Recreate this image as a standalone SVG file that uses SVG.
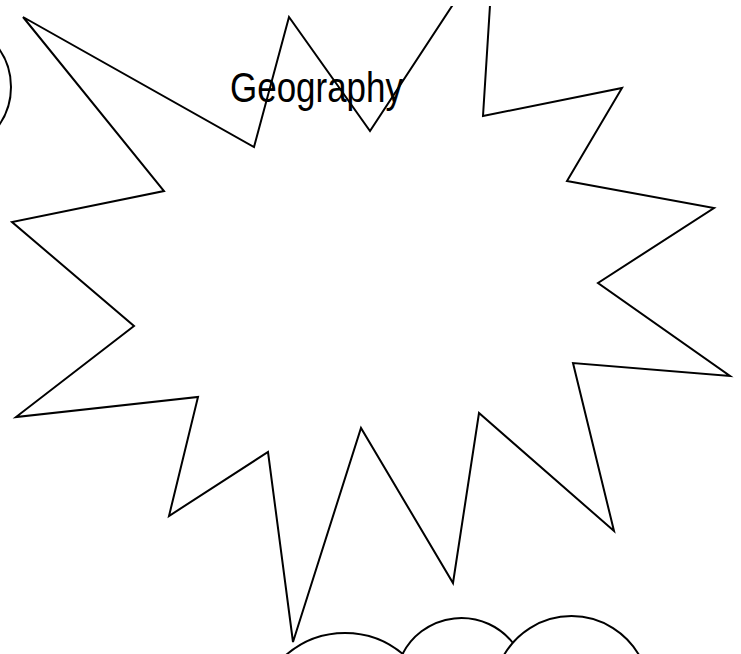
<svg xmlns="http://www.w3.org/2000/svg" width="741" height="654" viewBox="0 0 741 654">
  <style>
    .shape { fill: #ffffff; stroke: #000000; stroke-width: 2; stroke-linejoin: miter; }
    .open { fill: none; stroke: #000000; stroke-width: 2; }
    .label { font-family: "Liberation Sans", Arial, sans-serif; font-size: 42px; fill: #000000; }
  </style>
  <defs>
    <clipPath id="topclip">
      <rect x="-10" y="6" width="760" height="660"/>
    </clipPath>
  </defs>
  <rect x="0" y="0" width="741" height="654" fill="#ffffff"/>
  <g id="circle-node">
    <circle class="shape" cx="-55" cy="87" r="66"/>
  </g>
  <g id="cloud-node">
    <path class="open" d="M 286,655 A 90 90 0 0 1 404,655"/>
    <path class="open" d="M 402,655 A 66 66 0 0 1 513,643"/>
    <path class="open" d="M 504,655 A 78 78 0 0 1 639,655"/>
  </g>
  <g id="geography-node">
    <polygon class="shape" clip-path="url(#topclip)" points="23,17 164,191 12,222 134,326 16,417 198,397 169,516 268,452 293,642 361,428 453,583 479,413 614,531 573,363 730,376 598,283 714,208 567,181 622,88 483,116 494,-58 370,131 289,17 254,147"/>
    <text class="label" x="316.5" y="102" text-anchor="middle" textLength="173" lengthAdjust="spacingAndGlyphs">Geography</text>
  </g>
  <g id="connectors"/>
</svg>
